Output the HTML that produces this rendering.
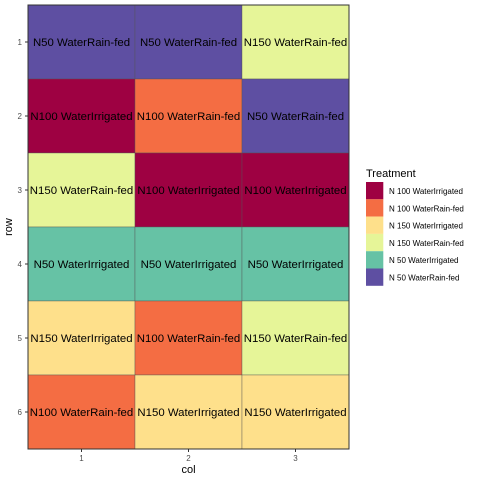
<!DOCTYPE html>
<html><head><meta charset="utf-8"><style>body{margin:0;background:#fff}svg{display:block}text{font-family:"Liberation Sans",sans-serif}</style></head>
<body>
<svg id="chart" width="480" height="480"></svg>
<script>
const rows=[1,2,3,4,5,6];
const cols=[1,2,3];
const cellRow=[1,1,1,2,2,2,3,3,3,4,4,4,5,5,5,6,6,6];
const cellCol=[1,2,3,1,2,3,1,2,3,1,2,3,1,2,3,1,2,3];
const cellTreat=["N50 WaterRain-fed","N50 WaterRain-fed","N150 WaterRain-fed",
"N100 WaterIrrigated","N100 WaterRain-fed","N50 WaterRain-fed",
"N150 WaterRain-fed","N100 WaterIrrigated","N100 WaterIrrigated",
"N50 WaterIrrigated","N50 WaterIrrigated","N50 WaterIrrigated",
"N150 WaterIrrigated","N100 WaterRain-fed","N150 WaterRain-fed",
"N100 WaterRain-fed","N150 WaterIrrigated","N150 WaterIrrigated"];
const levels=["N100 WaterIrrigated","N100 WaterRain-fed","N150 WaterIrrigated","N150 WaterRain-fed","N50 WaterIrrigated","N50 WaterRain-fed"];
const legendLabels=["N 100 WaterIrrigated","N 100 WaterRain-fed","N 150 WaterIrrigated","N 150 WaterRain-fed","N 50 WaterIrrigated","N 50 WaterRain-fed"];
const palette=["#9E0142","#F46D43","#FEE08B","#E6F598","#66C2A5","#5E4FA2"];
const NS="http://www.w3.org/2000/svg";
const svg=document.getElementById('chart');
const L=28,R=349,T=5,B=449;
const cw=(R-L)/cols.length, rh=(B-T)/rows.length;
const xs=c=>L+(c-1)*cw, ys=r=>T+(r-1)*rh;
function mk(tag,attrs,parent){const e=document.createElementNS(NS,tag);for(const k in attrs)e.setAttribute(k,attrs[k]);(parent||svg).appendChild(e);return e;}
const grid=mk('g',{});


for(let i=0;i<cellRow.length;i++){
  const x=xs(cellCol[i]),y=ys(cellRow[i]);
  const r=mk('rect',{x:x,y:y,width:cw,height:rh,fill:palette[levels.indexOf(cellTreat[i])],stroke:'#555','stroke-width':0.4},grid);
  
  
  const t=mk('text',{x:x+cw/2,y:y+rh/2+4,'text-anchor':'middle','font-size':11.4,fill:'#000'},grid);
  t.textContent=cellTreat[i];
  
  
}
const fr=mk('rect',{x:L,y:T,width:R-L,height:B-T,fill:'none',stroke:'#333','stroke-width':1});


rows.forEach(r=>{const y=ys(r)+rh/2;mk('line',{x1:L-3,x2:L,y1:y,y2:y,stroke:'#333'});
  const t=mk('text',{x:L-6,y:y+3,'text-anchor':'end','font-size':8,fill:'#4d4d4d'});t.textContent=r;
  });
cols.forEach(c=>{const x=xs(c)+cw/2;mk('line',{x1:x,x2:x,y1:B,y2:B+3,stroke:'#333'});
  const t=mk('text',{x:x,y:B+12,'text-anchor':'middle','font-size':8,fill:'#4d4d4d'});t.textContent=c;
  });
let t=mk('text',{x:(L+R)/2,y:473,'text-anchor':'middle','font-size':11});t.textContent='col';

t=mk('text',{x:0,y:0,'text-anchor':'middle','font-size':11,transform:`translate(12,${(T+B)/2}) rotate(-90)`});t.textContent='row';

const lg=mk('g',{});


t=mk('text',{x:366,y:177,'font-size':11},lg);t.textContent='Treatment';

levels.forEach((l,i)=>{const y=182+i*17.3;
  const k=mk('rect',{x:366,y:y,width:17.3,height:17.3,fill:palette[i]},lg);
  
  const tx=mk('text',{x:389,y:y+12,'font-size':8},lg);tx.textContent=legendLabels[i];
  });
</script>
</body></html>
